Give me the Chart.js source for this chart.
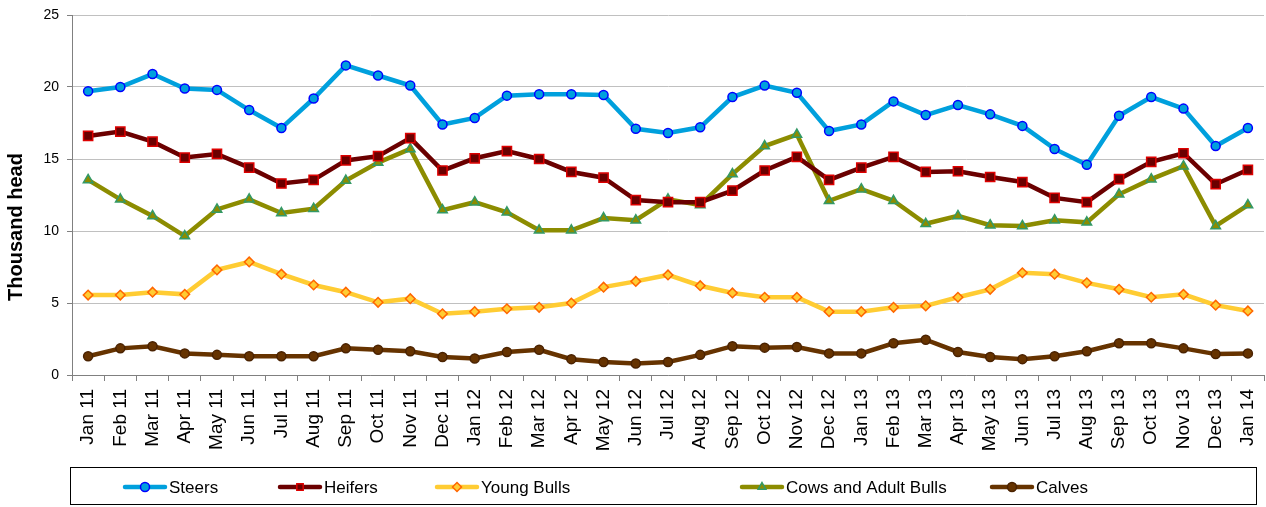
<!DOCTYPE html>
<html>
<head>
<meta charset="utf-8">
<script src="https://cdn.jsdelivr.net/npm/chart.js@4/dist/chart.umd.min.js"></script>
<style>
html,body{margin:0;padding:0;background:#fff;}
#wrap{width:1266px;height:507px;position:relative;}
</style>
</head>
<body>
<div id="wrap"><canvas id="c" width="1266" height="507"></canvas></div>
<script>
const categories = ["Jan 11","Feb 11","Mar 11","Apr 11","May 11","Jun 11","Jul 11","Aug 11","Sep 11","Oct 11","Nov 11","Dec 11",
"Jan 12","Feb 12","Mar 12","Apr 12","May 12","Jun 12","Jul 12","Aug 12","Sep 12","Oct 12","Nov 12","Dec 12",
"Jan 13","Feb 13","Mar 13","Apr 13","May 13","Jun 13","Jul 13","Aug 13","Sep 13","Oct 13","Nov 13","Dec 13","Jan 14"];

const steers = [19.7,20.0,20.9,19.9,19.8,18.4,17.15,19.2,21.5,20.8,20.1,17.4,
17.85,19.4,19.5,19.5,19.45,17.1,16.8,17.2,19.3,20.1,19.6,16.95,
17.4,19.0,18.05,18.75,18.1,17.3,15.7,14.6,18.0,19.3,18.5,15.9,17.15];

const heifers = [16.6,16.9,16.2,15.1,15.35,14.4,13.3,13.55,14.9,15.2,16.45,14.2,
15.05,15.55,15.0,14.1,13.7,12.15,12.0,12.0,12.8,14.2,15.15,13.55,
14.4,15.15,14.1,14.15,13.75,13.4,12.3,12.0,13.6,14.8,15.4,13.25,14.25];

const youngBulls = [5.55,5.55,5.75,5.6,7.3,7.85,7.0,6.25,5.75,5.05,5.3,4.25,
4.4,4.6,4.7,5.0,6.1,6.5,6.95,6.2,5.7,5.4,5.4,4.4,
4.4,4.7,4.8,5.4,5.95,7.1,7.0,6.4,5.95,5.4,5.6,4.85,4.45];

const cowsAdultBulls = [13.55,12.2,11.05,9.65,11.5,12.2,11.25,11.55,13.5,14.75,15.7,11.45,
12.0,11.3,10.05,10.05,10.9,10.75,12.2,11.8,13.95,15.9,16.7,12.1,
12.9,12.1,10.5,11.05,10.4,10.35,10.75,10.6,12.55,13.6,14.5,10.35,11.8];

const calves = [1.3,1.85,2.0,1.5,1.4,1.3,1.3,1.3,1.85,1.75,1.65,1.25,
1.15,1.6,1.75,1.1,0.9,0.8,0.9,1.4,2.0,1.9,1.95,1.5,
1.5,2.2,2.45,1.6,1.25,1.1,1.3,1.65,2.2,2.2,1.85,1.45,1.5];

const yTicks = [0,5,10,15,20,25];
const seriesNames = ["Steers","Heifers","Young Bulls","Cows and Adult Bulls","Calves"];
const yTitle = "Thousand head";

const FONT = "'Liberation Sans', Arial, sans-serif";

function ds(label, data, line, ptStyle, r, ptBorder, ptFill) {
  return {
    label, data,
    borderColor: line, backgroundColor: ptFill,
    borderWidth: 4.5,
    pointStyle: ptStyle, pointRadius: r,
    pointBorderColor: ptBorder, pointBackgroundColor: ptFill, pointBorderWidth: 1.5,
    pointHoverRadius: r,
    tension: 0, fill: false, clip: false
  };
}

const datasets = [
  ds(seriesNames[0], steers, "#00A0DD", "circle", 4.5, "#0000FF", "#00A0DD"),
  ds(seriesNames[1], heifers, "#6B0000", "rect", 6.5, "#DD0000", "#6B0000"),
  ds(seriesNames[2], youngBulls, "#FFCC33", "rectRot", 4.8, "#FF6600", "#FFCC33"),
  ds(seriesNames[3], cowsAdultBulls, "#8C8C00", "triangle", 5.5, "#339966", "#8C8C00"),
  ds(seriesNames[4], calves, "#663300", "circle", 4.5, "#4A2200", "#663300")
];

const legendX = [125, 280, 437, 742, 992];

const legendPlugin = {
  id: 'boxLegend',
  afterDraw(chart) {
    const ctx = chart.ctx;
    ctx.save();
    ctx.translate(16, 227);
    ctx.rotate(-Math.PI / 2);
    ctx.font = "bold 20px " + FONT;
    ctx.fillStyle = "#000";
    ctx.textAlign = "center";
    ctx.textBaseline = "middle";
    ctx.fillText(yTitle, 0, 0);
    ctx.restore();

    ctx.save();
    ctx.strokeStyle = "#000";
    ctx.lineWidth = 1;
    ctx.strokeRect(70.5, 467.5, 1186, 37);
    const cy = 487;
    ctx.font = "17px " + FONT;
    ctx.textBaseline = "middle";
    ctx.fillStyle = "#000";
    chart.data.datasets.forEach((d, i) => {
      const x0 = legendX[i];
      ctx.strokeStyle = d.borderColor;
      ctx.lineWidth = 4.5;
      ctx.lineCap = "round";
      ctx.beginPath();
      ctx.moveTo(x0, cy); ctx.lineTo(x0 + 40, cy);
      ctx.stroke();
      ctx.strokeStyle = d.pointBorderColor;
      ctx.fillStyle = d.pointBackgroundColor;
      ctx.lineWidth = d.pointBorderWidth;
      Chart.helpers.drawPoint(ctx, {pointStyle: d.pointStyle, radius: Math.min(d.pointRadius, 4.5), rotation: 0, borderWidth: d.pointBorderWidth}, x0 + 20, cy);
      ctx.fillStyle = "#000";
      ctx.fillText(d.label, x0 + 44, cy + 1);
    });
    ctx.restore();
  }
};

new Chart(document.getElementById('c'), {
  type: 'line',
  data: { labels: categories, datasets },
  plugins: [legendPlugin],
  options: {
    responsive: false,
    animation: false,
    layout: { autoPadding: false, padding: { left: 0, right: 2, top: 15, bottom: 52 } },
    plugins: { legend: { display: false }, tooltip: { enabled: false } },
    scales: {
      x: {
        offset: true,
        grid: { offset: true, drawOnChartArea: false, drawTicks: true, tickLength: 6, color: "#808080" },
        border: { color: "#808080", width: 1 },
        ticks: { minRotation: 90, maxRotation: 90, autoSkip: false, color: "#000", font: { family: FONT, size: 19 }, padding: 8 },
        afterFit(s) { s.height = 507 - 375 - 52; s.paddingLeft = 0; s.paddingRight = 0; }
      },
      y: {
        min: 0, max: 25,
        afterBuildTicks(s) { s.ticks = yTicks.map(v => ({ value: v })); },
        grid: { color: "#C0C0C0", tickColor: "#808080", tickLength: 5, drawTicks: true },
        border: { color: "#808080", width: 1 },
        ticks: { color: "#000", font: { family: FONT, size: 14 }, padding: 8 },
        afterFit(s) { s.width = 72; s.paddingTop = 0; s.paddingBottom = 0; }
      }
    }
  }
});
</script>
</body>
</html>
